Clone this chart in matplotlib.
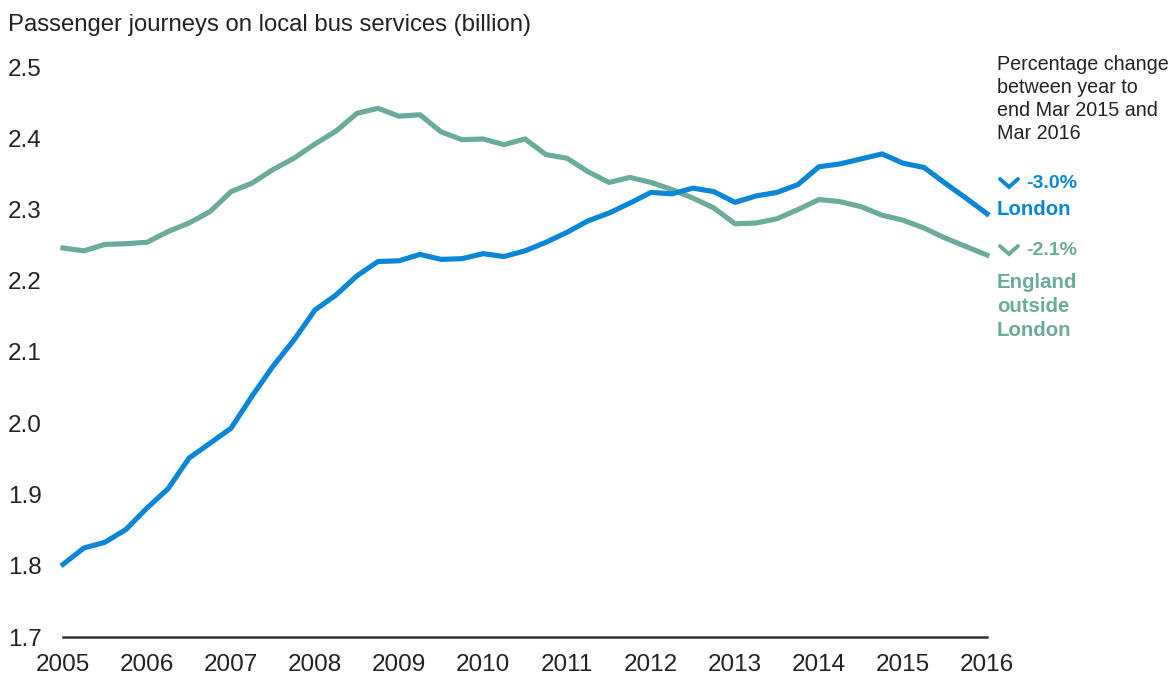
import matplotlib.pyplot as plt
from matplotlib.lines import Line2D
import numpy as np

plt.rcParams['font.family'] = ['Liberation Sans', 'DejaVu Sans']

# quarterly, year ending each quarter, 2005 .. 2016
start_year = 2005
london = [1.802, 1.825, 1.833, 1.851, 1.881, 1.908, 1.951, 1.972, 1.993,
          2.038, 2.080, 2.117, 2.159, 2.180, 2.207, 2.227, 2.228, 2.237,
          2.230, 2.231, 2.238, 2.234, 2.242, 2.254, 2.268, 2.284, 2.295,
          2.309, 2.324, 2.322, 2.330, 2.325, 2.310, 2.319, 2.324, 2.335,
          2.360, 2.364, 2.371, 2.378, 2.365, 2.359, 2.337, 2.316, 2.294]
england = [2.246, 2.242, 2.251, 2.252, 2.254, 2.269, 2.281, 2.297, 2.325,
           2.337, 2.356, 2.372, 2.392, 2.410, 2.435, 2.442, 2.431, 2.433,
           2.409, 2.398, 2.399, 2.391, 2.399, 2.377, 2.372, 2.353, 2.338,
           2.345, 2.338, 2.328, 2.316, 2.302, 2.280, 2.281, 2.287, 2.300,
           2.314, 2.311, 2.304, 2.292, 2.285, 2.274, 2.260, 2.248, 2.236]
years = list(range(2005, 2017))
yticks = [1.7, 1.8, 1.9, 2.0, 2.1, 2.2, 2.3, 2.4, 2.5]

blue = '#0a86d6'
teal = '#6aab9b'
W, H = 1170, 677

x = start_year + np.arange(len(london)) / 4

fig = plt.figure(figsize=(W / 100, H / 100), dpi=100)
ax = fig.add_axes([63 / W, 1 - 637 / H, (987 - 63) / W, (637 - 67) / H])

ax.plot(x, england, color=teal, lw=3.7, solid_joinstyle='round', clip_on=False)
ax.plot(x, london, color=blue, lw=3.7, solid_joinstyle='round', clip_on=False)

ax.set_xlim(2005, 2016)
ax.set_ylim(1.7, 2.5)
ax.set_xticks(years)
ax.set_xticklabels([str(y) for y in years])
ax.set_yticks(yticks)
ax.set_yticklabels([f'{v:.1f}' for v in yticks])

for s in ['top', 'right', 'left']:
    ax.spines[s].set_visible(False)
ax.spines['bottom'].set_color('#333333')
ax.spines['bottom'].set_linewidth(1.8)
ax.tick_params(axis='both', length=0, labelsize=17.5, colors='#222222')
ax.tick_params(axis='x', pad=12)
ax.tick_params(axis='y', pad=39.6)
for lbl in ax.get_yticklabels():
    lbl.set_ha('left')

fig.text(8 / W, 1 - 25 / H, 'Passenger journeys on local bus services (billion)',
         fontsize=17.2, color='#222222', va='center', ha='left')

fig.text(997 / W, 1 - 55 / H, 'Percentage change\nbetween year to\nend Mar 2015 and\nMar 2016',
         fontsize=14.2, color='#222222', va='top', ha='left', linespacing=1.27)


def chevron(cx, cy, color):
    xs = [(cx - 9) / W, cx / W, (cx + 9) / W]
    ys = [1 - (cy - 4) / H, 1 - (cy + 4) / H, 1 - (cy - 4) / H]
    fig.add_artist(Line2D(xs, ys, color=color, lw=2.8, solid_capstyle='round',
                          solid_joinstyle='miter'))


chevron(1009, 183, blue)
fig.text(1026 / W, 1 - 183 / H, '-3.0%', fontsize=14, fontweight='bold',
         color=blue, va='center', ha='left')
fig.text(997 / W, 1 - 210 / H, 'London', fontsize=14.7, fontweight='bold',
         color=blue, va='center', ha='left')

chevron(1009, 250, teal)
fig.text(1026 / W, 1 - 250 / H, '-2.1%', fontsize=14, fontweight='bold',
         color=teal, va='center', ha='left')
fig.text(997 / W, 1 - 273 / H, 'England\noutside\nLondon', fontsize=14.7,
         fontweight='bold', color=teal, va='top', ha='left', linespacing=1.34)

fig.savefig('out.png', dpi=100)
